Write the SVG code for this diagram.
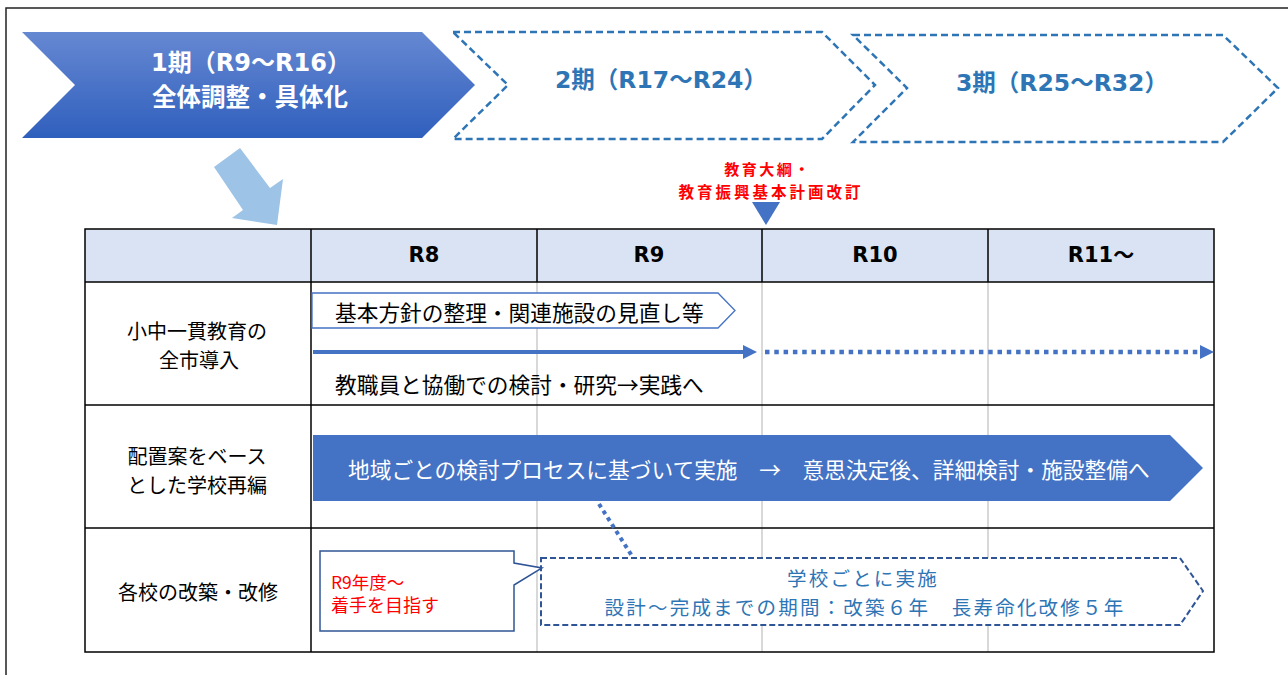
<svg xmlns="http://www.w3.org/2000/svg" width="1288" height="675" viewBox="0 0 1288 675">
<defs>
<linearGradient id="g1" x1="0" y1="0" x2="0" y2="1">
<stop offset="0" stop-color="#6688d2"/>
<stop offset="1" stop-color="#2f5fbd"/>
</linearGradient>
<style>
.jp{font-family:"Noto Sans CJK JP","Noto Sans CJK SC",sans-serif;}
.lat{font-family:"DejaVu Sans","Noto Sans CJK JP",sans-serif;font-weight:bold;}
.hdr{fill:#dae3f3;stroke:none;}
.blk{stroke:#000;stroke-width:1.5;fill:none;}
.gry{stroke:#bfbfbf;stroke-width:1.2;fill:none;}
.dashc{fill:#fff;stroke:#2e75b6;stroke-width:2.5;stroke-dasharray:7 4;}
.ph{fill:#2e75b6;font-size:23.5px;}
.lbl{font-size:20px;fill:#000;text-anchor:middle;}
.body{font-size:21.7px;fill:#000;}
.red{font-weight:bold;fill:#ff0000;text-anchor:middle;}
.st{font-size:19.5px;letter-spacing:2.2px;fill:#2e75b6;text-anchor:middle;}
</style>
</defs>
<rect x="0" y="0" width="1288" height="675" fill="#fff"/>
<rect x="6" y="8" width="1300" height="700" fill="none" stroke="#222" stroke-width="1.5"/>

<g id="phase1">
<polygon points="22,32 422,32 475,85 422,138 22,138 75,85" fill="url(#g1)"/>
<text class="lat" x="251" y="63" font-size="24" fill="#fff" text-anchor="middle" dominant-baseline="central">1期（R9〜R16）</text>
<text class="lat" x="250" y="97" font-size="24.5" fill="#fff" text-anchor="middle" dominant-baseline="central">全体調整・具体化</text>
</g>
<g id="phase2">
<polygon class="dashc" points="453,32 822,32 875,85 822,139 453,139 508,85"/>
<text class="lat ph" x="661" y="80" text-anchor="middle" dominant-baseline="central">2期（R17〜R24）</text>
</g>
<g id="phase3">
<polygon class="dashc" points="853,35 1223,35 1278,88 1223,142 853,142 907,88"/>
<text class="lat ph" x="1062" y="83" text-anchor="middle" dominant-baseline="central">3期（R25〜R32）</text>
</g>

<g id="bigArrow">
<polygon points="214,167 240,148 270,188 283,179 277,225 232,218 243,210" fill="#9dc3e6"/>
</g>

<g id="milestone">
<text class="jp red" x="768" y="168.5" font-size="15" letter-spacing="2.5" dominant-baseline="central">教育大綱・</text>
<text class="jp red" x="771" y="191" font-size="15.5" letter-spacing="3" dominant-baseline="central">教育振興基本計画改訂</text>
<polygon points="752,202 780,202 766,225" fill="#4472c4"/>
</g>

<g id="table">
<rect class="hdr" x="85" y="229" width="1129" height="53"/>
<line class="gry" x1="537" y1="282" x2="537" y2="652"/>
<line class="gry" x1="762" y1="282" x2="762" y2="652"/>
<line class="gry" x1="988" y1="282" x2="988" y2="652"/>
<rect class="blk" x="85" y="229" width="1129" height="423"/>
<line class="blk" x1="85" y1="282" x2="1214" y2="282"/>
<line class="blk" x1="85" y1="405" x2="1214" y2="405"/>
<line class="blk" x1="85" y1="528" x2="1214" y2="528"/>
<line class="blk" x1="311" y1="229" x2="311" y2="652"/>
<line class="blk" x1="537" y1="229" x2="537" y2="282"/>
<line class="blk" x1="762" y1="229" x2="762" y2="282"/>
<line class="blk" x1="988" y1="229" x2="988" y2="282"/>
<g class="lat" font-size="21" fill="#000" text-anchor="middle">
<text x="424" y="255" dominant-baseline="central">R8</text>
<text x="649" y="255" dominant-baseline="central">R9</text>
<text x="875" y="255" dominant-baseline="central">R10</text>
<text x="1101" y="255" dominant-baseline="central">R11〜</text>
</g>
<g class="jp lbl">
<text x="197" y="330" dominant-baseline="central">小中一貫教育の</text>
<text x="199" y="359" dominant-baseline="central">全市導入</text>
<text x="197" y="455" dominant-baseline="central">配置案をベース</text>
<text x="197" y="484" dominant-baseline="central">とした学校再編</text>
<text x="198" y="591" dominant-baseline="central">各校の改築・改修</text>
</g>
</g>

<g id="task1">
<polygon points="312,293 718,293 735,310.5 718,328 312,328" fill="#fff" stroke="#4472c4" stroke-width="1.3"/>
<text class="jp body" x="335" y="311" dominant-baseline="central">基本方針の整理・関連施設の見直し等</text>
</g>
<g id="task2">
<text class="jp body" x="335" y="383" dominant-baseline="central">教職員と協働での検討・研究→実践へ</text>
</g>

<g id="banner">
<polygon points="313,435 1170,435 1203,468 1170,501 313,501" fill="#4472c4"/>
<text class="jp" x="348" y="468" font-size="21.7" fill="#fff" dominant-baseline="central">地域ごとの検討プロセスに基づいて実施　→　意思決定後、詳細検討・施設整備へ</text>
</g>

<g id="schoolTask">
<polygon points="541,558 1180,558 1203,591 1180,625 541,625" fill="#fff" stroke="#2f5597" stroke-width="2" stroke-dasharray="6 3"/>
<text class="jp st" x="863" y="577.5" dominant-baseline="central">学校ごとに実施</text>
<text class="jp st" x="865" y="606.5" dominant-baseline="central">設計〜完成までの期間：改築６年　長寿命化改修５年</text>
</g>

<g id="callout">
<path d="M320,551 H514 V563 L542,568 L514,585 V631 H320 Z" fill="#fff" stroke="#2f5597" stroke-width="1.5"/>
<text class="jp" x="331" y="581" font-size="17.5" fill="#ff0000" dominant-baseline="central">R9年度〜</text>
<text class="jp" x="331" y="604" font-size="18" fill="#ff0000" dominant-baseline="central">着手を目指す</text>
</g>

<g id="connectors">
<line x1="313" y1="352" x2="745" y2="352" stroke="#4472c4" stroke-width="4"/>
<polygon points="743,345 757,352 743,359" fill="#4472c4"/>
<line x1="765" y1="352" x2="1199" y2="352" stroke="#4472c4" stroke-width="4.5" stroke-dasharray="4.5 4.8"/>
<polygon points="1200,345 1214,352 1200,359" fill="#4472c4"/>
<line x1="599" y1="504" x2="632" y2="556" stroke="#4472c4" stroke-width="4" stroke-dasharray="4 4"/>
</g>
</svg>
